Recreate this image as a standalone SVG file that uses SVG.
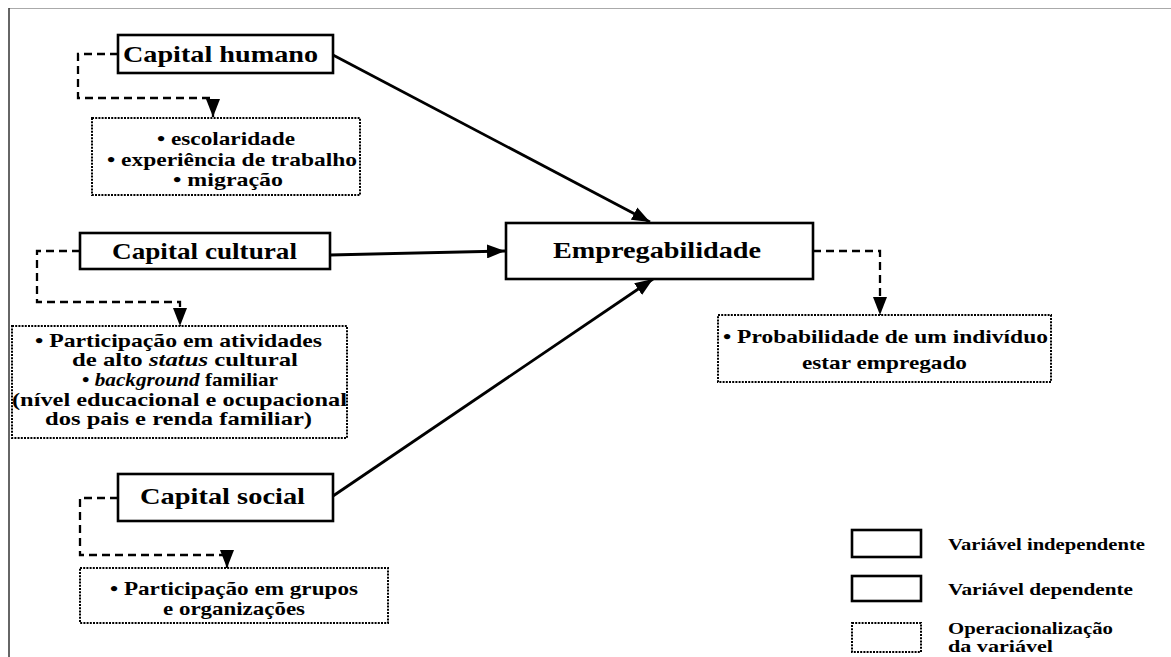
<svg xmlns="http://www.w3.org/2000/svg" width="1171" height="657" viewBox="0 0 1171 657">
<style>
text{font-family:"Liberation Serif","DejaVu Serif","Times New Roman",serif;font-weight:bold;fill:#000}
.t{font-size:23px;text-anchor:middle}
.s{font-size:19px;text-anchor:middle}
.l{font-size:16px}
.box{fill:#fff;stroke:#000;stroke-width:2.6}
.op{fill:#fff;stroke:#000;stroke-width:2;stroke-dasharray:2 1.2}
.dash{fill:none;stroke:#000;stroke-width:2.3;stroke-dasharray:8 5}
.arr{fill:none;stroke:#000;stroke-width:2.8}
</style>
<defs>
<marker id="ah" markerUnits="userSpaceOnUse" markerWidth="20" markerHeight="14" refX="18" refY="7" orient="auto">
<path d="M0,0 L18,7 L0,14 z" fill="#000"/>
</marker>
</defs>
<rect x="0" y="0" width="1171" height="657" fill="#fff"/>
<line x1="9" y1="8.5" x2="1171" y2="8.5" stroke="#aaa" stroke-width="1"/>
<line x1="9" y1="8" x2="9" y2="657" stroke="#333" stroke-width="1.5"/>

<g id="connectors">
<path class="dash" d="M118,54 H78 V98 H213 V117" marker-end="url(#ah)"/>
<path class="dash" d="M80,251 H37 V302 H180 V326" marker-end="url(#ah)"/>
<path class="dash" d="M118,498 H80 V555 H227 V568" marker-end="url(#ah)"/>
<path class="dash" d="M813,251 H880 V315" marker-end="url(#ah)"/>
<path class="arr" d="M333,55 L650,222" marker-end="url(#ah)"/>
<path class="arr" d="M330,255 L505,251" marker-end="url(#ah)"/>
<path class="arr" d="M333,496 L653,279" marker-end="url(#ah)"/>
</g>

<g id="capital-humano">
<rect class="box" x="118" y="35" width="215" height="38"/>
<text class="t" x="220.5" y="62" textLength="195" lengthAdjust="spacingAndGlyphs">Capital humano</text>
</g>
<g id="op-humano">
<rect class="op" x="92" y="118" width="268" height="77"/>
<text class="s" x="226" y="145" textLength="138" lengthAdjust="spacingAndGlyphs">• escolaridade</text>
<text class="s" x="232" y="166" textLength="250" lengthAdjust="spacingAndGlyphs">• experiência de trabalho</text>
<text class="s" x="228" y="186" textLength="110" lengthAdjust="spacingAndGlyphs">• migração</text>
</g>

<g id="capital-cultural">
<rect class="box" x="80" y="233" width="250" height="36"/>
<text class="t" x="204.5" y="259" textLength="185" lengthAdjust="spacingAndGlyphs">Capital cultural</text>
</g>
<g id="op-cultural">
<rect class="op" x="12" y="326" width="335" height="112"/>
<text class="s" x="178.5" y="347" textLength="287" lengthAdjust="spacingAndGlyphs">• Participação em atividades</text>
<text class="s" x="185" y="366" textLength="226" lengthAdjust="spacingAndGlyphs">de alto <tspan font-style="italic">status</tspan> cultural</text>
<text class="s" x="180" y="386" textLength="196" lengthAdjust="spacingAndGlyphs">• <tspan font-style="italic">background</tspan> familiar</text>
<text class="s" x="179.5" y="406" textLength="335" lengthAdjust="spacingAndGlyphs">(nível educacional e ocupacional</text>
<text class="s" x="178.5" y="425" textLength="267" lengthAdjust="spacingAndGlyphs">dos pais e renda familiar)</text>
</g>

<g id="capital-social">
<rect class="box" x="118" y="474" width="215" height="47"/>
<text class="t" x="222.5" y="504" textLength="165" lengthAdjust="spacingAndGlyphs">Capital social</text>
</g>
<g id="op-social">
<rect class="op" x="80" y="568" width="308" height="55"/>
<text class="s" x="234" y="595" textLength="248" lengthAdjust="spacingAndGlyphs">• Participação em grupos</text>
<text class="s" x="234" y="615" textLength="142" lengthAdjust="spacingAndGlyphs">e organizações</text>
</g>

<g id="empregabilidade">
<rect class="box" x="506" y="223" width="307" height="56"/>
<text class="t" x="657" y="258" textLength="208" lengthAdjust="spacingAndGlyphs">Empregabilidade</text>
</g>
<g id="op-empregabilidade">
<rect class="op" x="718" y="315" width="333" height="67"/>
<text class="s" x="885.5" y="343" textLength="325" lengthAdjust="spacingAndGlyphs">• Probabilidade de um indivíduo</text>
<text class="s" x="884.5" y="369" textLength="165" lengthAdjust="spacingAndGlyphs">estar empregado</text>
</g>

<g id="legend">
<rect class="box" x="852" y="530" width="69" height="27"/>
<text class="l" x="948" y="550" textLength="197" lengthAdjust="spacingAndGlyphs">Variável independente</text>
<rect class="box" x="852" y="576" width="69" height="25"/>
<text class="l" x="948" y="595" textLength="185" lengthAdjust="spacingAndGlyphs">Variável dependente</text>
<rect class="op" x="852" y="623" width="69" height="29"/>
<text class="l" x="948" y="634" textLength="165" lengthAdjust="spacingAndGlyphs">Operacionalização</text>
<text class="l" x="948" y="652" textLength="105" lengthAdjust="spacingAndGlyphs">da variável</text>
</g>
</svg>
